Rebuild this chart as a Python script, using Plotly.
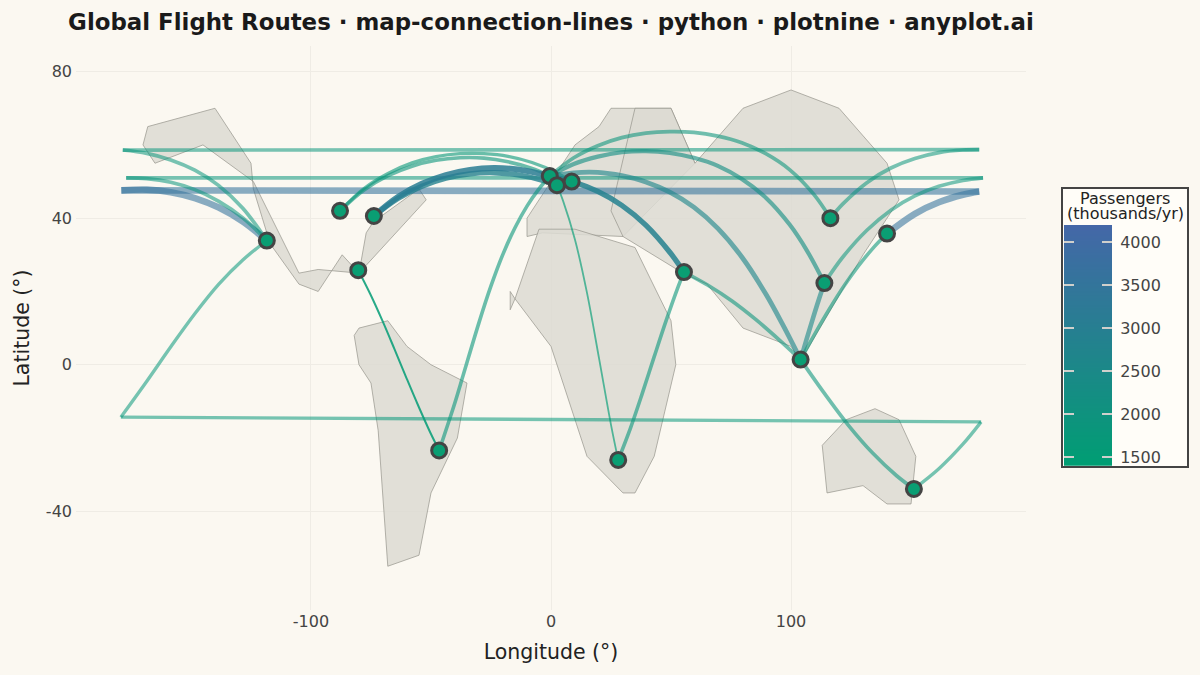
import numpy as np
import plotly.graph_objects as go

W, H = 1200, 675
BG = "#FBF8F1"
LOW = (0, 158, 115)
HIGH = (68, 103, 168)
VMIN, VMAX = 1400, 4200

# ---- continents (lon, lat) ----
north_america_lon = [-170, -168, -140, -125, -124, -117, -105, -97, -87, -80, -77, -74, -55, -52, -80, -97, -105, -124, -145, -165, -170]
north_america_lat = [60, 65, 70, 55, 48, 33, 22, 20, 30, 25, 36, 39, 48, 45, 25, 26, 25, 50, 60, 55, 60]
south_america_lon = [-80, -68, -60, -50, -35, -39, -50, -55, -68, -72, -75, -80, -82, -80]
south_america_lat = [10, 12, 5, 0, -5, -20, -35, -52, -55, -18, -5, 0, 8, 10]
europe_lon = [-10, -10, 10, 20, 25, 50, 60, 30, -3.5, -10]
europe_lat = [35, 40, 60, 65, 70, 70, 55, 35, 36, 35]
africa_lon = [-15, -17, -17, -15, -5, 10, 35, 50, 52, 43, 35, 30, 15, 0, -15]
africa_lat = [18, 15, 20, 18, 37, 37, 32, 12, 0, -25, -35, -35, -25, 5, 18]
asia_lon = [30, 55, 65, 80, 100, 104, 130, 145, 140, 120, 100, 80, 60, 50, 35, 25, 30]
asia_lat = [35, 25, 22, 10, 5, 1, 30, 45, 55, 70, 75, 70, 55, 70, 70, 42, 35]
australia_lon = [113, 123, 135, 145, 152, 150, 140, 130, 115, 113]
australia_lat = [-22, -15, -12, -15, -25, -38, -38, -33, -35, -22]

continents = [
    (north_america_lon, north_america_lat),
    (south_america_lon, south_america_lat),
    (europe_lon, europe_lat),
    (africa_lon, africa_lat),
    (asia_lon, asia_lat),
    (australia_lon, australia_lat),
]

# ---- airports ----
airport_names = ["LAX", "ORD", "JFK", "MIA", "GRU", "LHR", "CDG", "FRA", "JNB", "DXB", "SIN", "HKG", "PEK", "NRT", "SYD"]
airport_lon = [-118.4, -87.9, -73.8, -80.3, -46.6, -0.5, 2.5, 8.6, 28.0, 55.4, 104.0, 113.9, 116.4, 140.0, 151.2]
airport_lat = [33.9, 42.0, 40.6, 25.8, -23.4, 51.5, 49.0, 50.0, -26.0, 25.3, 1.4, 22.3, 40.0, 35.8, -33.9]

# ---- routes: waypoints ----
lax_nrt_w_lon = [-118.4, -128.4, -138.4, -148.4, -158.4, -168.4, -179]
lax_nrt_w_lat = [33.9, 39.1, 42.9, 45.5, 47.1, 47.8, 47.6]
lax_nrt_e_lon = [178.4, 171.6, 161.6, 151.6, 140.0]
lax_nrt_e_lat = [47.3, 46.4, 44.35, 41.2, 35.8]

lax_pek_w_lon = [-118.4, -128.4, -138.4, -148.4, -158.4, -168.4, -178.4]
lax_pek_w_lat = [33.9, 42.7, 48.9, 53.1, 55.9, 57.7, 58.6]
lax_pek_e_lon = [178.4, 171.6, 161.6, 151.6, 141.6, 131.6, 121.6, 116.4]
lax_pek_e_lat = [58.7, 58.6, 57.9, 56.3, 53.7, 49.7, 43.9, 40.0]

lax_hkg_w_lon = [-118.4, -128.4, -138.4, -148.4, -158.4, -168.4, -177]
lax_hkg_w_lat = [33.9, 40.1, 44.6, 47.8, 49.8, 50.8, 51.0]
lax_hkg_e_lon = [180, 171.6, 161.6, 151.6, 141.6, 131.6, 121.6, 113.9]
lax_hkg_e_lat = [51.0, 50.3, 48.7, 46.1, 42.2, 36.7, 29.4, 22.3]

lax_syd_w_lon = [-118.4, -128.4, -138.4, -148.4, -158.4, -168.4, -179.2]
lax_syd_w_lat = [33.9, 28.6, 22.0, 13.9, 4.9, -4.5, -14.3]
lax_syd_e_lon = [179.2, 171.6, 161.6, 151.2]
lax_syd_e_lat = [-15.6, -21.7, -28.4, -33.9]

jfk_lhr_lon = [-73.8, -63.8, -53.8, -43.8, -33.8, -23.8, -13.8, -0.5]
jfk_lhr_lat = [40.6, 45.8, 49.4, 51.8, 53.2, 53.7, 53.3, 51.5]
jfk_cdg_lon = [-73.8, -63.8, -53.8, -43.8, -33.8, -23.8, -13.8, -3.8, 2.5]
jfk_cdg_lat = [40.6, 45.4, 48.7, 50.9, 52.1, 52.4, 51.8, 50.4, 49.0]
ord_lhr_lon = [-87.9, -77.9, -67.9, -57.9, -47.9, -37.9, -27.9, -17.9, -7.9, -0.5]
ord_lhr_lat = [42.0, 47.7, 51.6, 54.2, 55.8, 56.5, 56.4, 55.4, 53.6, 51.5]
ord_fra_lon = [-87.9, -77.9, -67.9, -57.9, -47.9, -37.9, -27.9, -17.9, -7.9, 2.1, 8.6]
ord_fra_lat = [42.0, 48.1, 52.2, 55.1, 56.8, 57.6, 57.6, 56.9, 55.2, 52.5, 50.0]
gru_lhr_lon = [-46.6, -40, -36.6, -30, -25, -20, -15, -10, -5, -0.5]
gru_lhr_lat = [-23.4, -10.3, -2.9, 11.5, 21.5, 30.2, 37.4, 43.3, 48.0, 51.5]
mia_gru_lon = [-80.3, -75.3, -70.3, -65.3, -60.3, -55.3, -50.3, -46.6]
mia_gru_lat = [25.8, 19.3, 12.1, 4.4, -3.5, -11.2, -18.5, -23.4]
cdg_jnb_lon = [2.5, 5, 10, 15, 20, 25, 28]
cdg_jnb_lat = [49.0, 44.8, 34.1, 19.6, 1.8, -16.4, -26.0]
jnb_dxb_lon = [28, 33, 38, 43, 48, 53, 55.4]
jnb_dxb_lat = [-26.0, -17.5, -7.9, 2.2, 12.1, 21.3, 25.3]
lhr_dxb_lon = [-0.5, 9.5, 19.5, 29.5, 39.5, 49.5, 55.4]
lhr_dxb_lat = [51.5, 49.9, 47.3, 43.5, 38.1, 30.7, 25.3]
lhr_sin_lon = [-0.5, 9.5, 19.5, 29.5, 39.5, 49.5, 59.5, 69.5, 79.5, 89.5, 96.5, 104.0]
lhr_sin_lat = [51.5, 52.4, 52.5, 51.6, 49.9, 47.1, 43.0, 37.2, 29.4, 19.3, 11.0, 1.4]
lhr_hkg_lon = [-0.5, 9.5, 19.5, 29.5, 39.5, 49.5, 59.5, 69.5, 79.5, 89.5, 99.5, 106.5, 113.9]
lhr_hkg_lat = [51.5, 54.8, 56.8, 58.0, 58.3, 57.8, 56.5, 54.3, 50.7, 45.6, 38.2, 31.3, 22.3]
lhr_pek_lon = [-0.5, 9.5, 19.5, 29.5, 39.5, 49.5, 59.5, 69.5, 79.5, 89.5, 99.5, 109.5, 116.4]
lhr_pek_lat = [51.5, 56.5, 59.8, 62.0, 63.2, 63.6, 63.4, 62.4, 60.6, 57.6, 53.2, 46.5, 40.0]
dxb_sin_lon = [55.4, 65.4, 75.4, 85.4, 95.4, 104.0]
dxb_sin_lat = [25.3, 21.7, 17.4, 12.3, 6.6, 1.4]
sin_hkg_lon = [104.0, 106.5, 109, 111.5, 113.9]
sin_hkg_lat = [1.4, 7.0, 12.4, 17.6, 22.3]
sin_nrt_lon = [104.0, 110, 116, 122, 128, 134, 140.0]
sin_nrt_lat = [1.4, 8.5, 15.2, 21.4, 26.9, 31.7, 35.8]
sin_syd_lon = [104.0, 114, 124, 134, 144, 151.2]
sin_syd_lat = [1.4, -7.9, -16.6, -24.1, -30.3, -33.9]

# (passengers, alpha, west arc, east arc)
wrapped_routes = [
    (3600, 0.58, (lax_nrt_w_lon, lax_nrt_w_lat), (lax_nrt_e_lon, lax_nrt_e_lat)),
    (1850, 0.55, (lax_pek_w_lon, lax_pek_w_lat), (lax_pek_e_lon, lax_pek_e_lat)),
    (1850, 0.55, (lax_hkg_w_lon, lax_hkg_w_lat), (lax_hkg_e_lon, lax_hkg_e_lat)),
    (1750, 0.55, (lax_syd_w_lon, lax_syd_w_lat), (lax_syd_e_lon, lax_syd_e_lat)),
]
# (passengers, alpha, lon, lat)
direct_routes = [
    (1750, 0.6, ord_fra_lon, ord_fra_lat),
    (1850, 0.6, ord_lhr_lon, ord_lhr_lat),
    (2900, 0.8, jfk_cdg_lon, jfk_cdg_lat),
    (3100, 0.85, jfk_lhr_lon, jfk_lhr_lat),
    (1800, 0.6, gru_lhr_lon, gru_lhr_lat),
    (1500, 0.85, mia_gru_lon, mia_gru_lat),
    (1450, 0.65, cdg_jnb_lon, cdg_jnb_lat),
    (1800, 0.6, jnb_dxb_lon, jnb_dxb_lat),
    (2900, 0.85, lhr_dxb_lon, lhr_dxb_lat),
    (2600, 0.62, lhr_sin_lon, lhr_sin_lat),
    (2200, 0.62, lhr_hkg_lon, lhr_hkg_lat),
    (1900, 0.58, lhr_pek_lon, lhr_pek_lat),
    (1900, 0.58, dxb_sin_lon, dxb_sin_lat),
    (2500, 0.6, sin_hkg_lon, sin_hkg_lat),
    (1800, 0.58, sin_nrt_lon, sin_nrt_lat),
    (1850, 0.58, sin_syd_lon, sin_syd_lat),
]

colorbar_ticks = [1500, 2000, 2500, 3000, 3500, 4000]
x_ticks = [-100, 0, 100]
x_tick_labels = ["-100", "0", "100"]
y_ticks = [-40, 0, 40, 80]
y_tick_labels = ["-40", "0", "40", "80"]

WIDTH_VALUES = [1400, 1500, 1800, 2500, 2900, 3100, 3600, 4200]
WIDTH_PIXELS = [1.6, 2.0, 3.6, 4.6, 5.3, 5.8, 6.6, 7.2]


def route_rgb(v):
    t = (v - VMIN) / (VMAX - VMIN)
    return tuple(round(a + (b - a) * t) for a, b in zip(LOW, HIGH))


def route_width(v):
    return float(np.interp(v, WIDTH_VALUES, WIDTH_PIXELS))


def add_line(fig, lons, lats, v, alpha, shape):
    r, g, b = route_rgb(v)
    fig.add_trace(go.Scatter(
        x=lons, y=lats, mode="lines", showlegend=False, hoverinfo="skip",
        line=dict(color=f"rgba({r},{g},{b},{alpha})", width=route_width(v), shape=shape, smoothing=1.0),
    ))


fig = go.Figure()

for lons, lats in continents:
    fig.add_trace(go.Scatter(
        x=lons, y=lats, mode="lines", fill="toself", showlegend=False, hoverinfo="skip",
        fillcolor="rgba(220,218,210,0.85)", line=dict(color="rgba(150,148,140,0.7)", width=1),
    ))

for v, alpha, west, east in wrapped_routes:
    add_line(fig, west[0], west[1], v, alpha, "spline")
    add_line(fig, [west[0][-1], east[0][0]], [west[1][-1], east[1][0]], v, alpha, "linear")
    add_line(fig, east[0], east[1], v, alpha, "spline")

for v, alpha, lons, lats in direct_routes:
    add_line(fig, lons, lats, v, alpha, "spline")

fig.add_trace(go.Scatter(
    x=airport_lon, y=airport_lat, text=airport_names, mode="markers", showlegend=False,
    marker=dict(size=15, color="#0A9E73", line=dict(color="#444444", width=3)),
))

# gradient legend on its own small axes
cb_vals = list(range(VMIN, VMAX + 1, 20))
fig.add_trace(go.Heatmap(
    x=[0, 1], y=cb_vals, z=[[v, v] for v in cb_vals], xaxis="x2", yaxis="y2",
    zmin=VMIN, zmax=VMAX, showscale=False, hoverinfo="skip",
    colorscale=[[0, f"rgb{LOW}"], [1, f"rgb{HIGH}"]],
))

grid = "#EFECE5"
axis_font = dict(family="DejaVu Sans", size=16, color="#444444")
title_font = dict(family="DejaVu Sans", size=20.5, color="#222222")
legend_font = dict(family="DejaVu Sans", size=16, color="#222222")

fig.update_layout(
    width=W, height=H,
    paper_bgcolor=BG, plot_bgcolor=BG,
    margin=dict(l=0, r=0, t=0, b=0),
    title=dict(
        text="<b>Global Flight Routes · map-connection-lines · python · plotnine · anyplot.ai</b>",
        x=551 / W, y=1 - 22 / H, xanchor="center", yanchor="middle",
        font=dict(family="DejaVu Sans", size=22.9, color="#1A1A1A"),
    ),
    xaxis=dict(
        domain=[76 / W, 1026 / W], range=[-197.9, 197.9], tickvals=x_ticks, ticktext=x_tick_labels,
        showgrid=True, gridcolor=grid, zeroline=False, showline=False, ticks="",
        tickfont=axis_font, title=dict(text="Longitude (°)", font=title_font, standoff=14),
    ),
    yaxis=dict(
        domain=[(H - 610) / H, (H - 46) / H], range=[-66.95, 87.0], tickvals=y_ticks, ticktext=y_tick_labels,
        showgrid=True, gridcolor=grid, zeroline=False, showline=False, ticks="",
        tickfont=axis_font, ticklabelstandoff=3, title=dict(text="Latitude (°)", font=title_font, standoff=10),
    ),
    xaxis2=dict(domain=[1064 / W, 1112 / W], range=[-0.5, 1.5], anchor="y2", visible=False),
    yaxis2=dict(
        domain=[(H - 465.7) / H, (H - 225) / H], range=[VMIN, VMAX], anchor="x2", side="right",
        tickvals=colorbar_ticks, ticks="inside", ticklen=10, tickcolor="#D0D0CC", tickwidth=1.5,
        showline=True, linecolor="rgba(0,0,0,0)", mirror="ticks", showgrid=False, zeroline=False,
        tickfont=axis_font, ticklabelstandoff=4,
    ),
    shapes=[dict(
        type="rect", xref="paper", yref="paper", layer="below",
        x0=1062 / W, x1=1188 / W, y0=(H - 467) / H, y1=(H - 188) / H,
        fillcolor="#FFFDF8", line=dict(color="#444444", width=2),
    )],
    annotations=[
        dict(text="Passengers", xref="paper", yref="paper", x=1125 / W, y=1 - 198 / H, showarrow=False,
             xanchor="center", yanchor="middle", font=legend_font),
        dict(text="(thousands/yr)", xref="paper", yref="paper", x=1125 / W, y=1 - 213 / H, showarrow=False,
             xanchor="center", yanchor="middle", font=legend_font),
    ],
)

fig.write_html("out.html", config={"displayModeBar": False}, post_script="document.body.style.margin='0';")
